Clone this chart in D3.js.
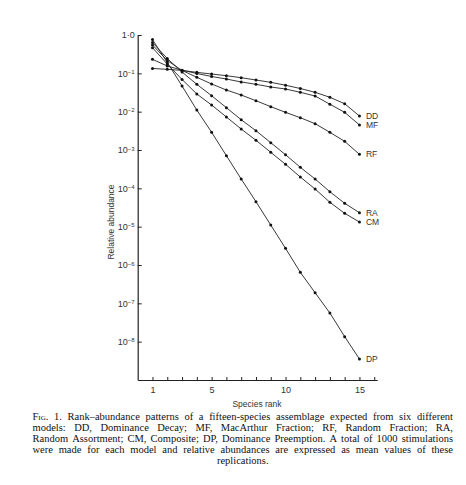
<!DOCTYPE html>
<html>
<head>
<meta charset="utf-8">
<script src="https://cdn.jsdelivr.net/npm/d3@7"></script>
<style>
  body { margin: 0; background: #fff; }
  svg { display: block; }
</style>
</head>
<body>
<svg id="chart"></svg>
<script>
// species ranks (x) and mean relative abundance per model (y)
const ranks = [1, 2, 3, 4, 5, 6, 7, 8, 9, 10, 11, 12, 13, 14, 15];
const ddValues = [0.134, 0.127, 0.119, 0.106, 0.096, 0.0867, 0.0769, 0.067, 0.0583, 0.049, 0.0402, 0.032, 0.0237, 0.0161, 0.0077];
const mfValues = [0.232, 0.155, 0.121, 0.099, 0.0827, 0.0711, 0.0594, 0.0518, 0.044, 0.039, 0.032, 0.0256, 0.0156, 0.0096, 0.0045];
const rfValues = [0.548, 0.216, 0.119, 0.0788, 0.0527, 0.0367, 0.0272, 0.0193, 0.0135, 0.0096, 0.00695, 0.00485, 0.00289, 0.00168, 0.00077];
const raValues = [0.637, 0.244, 0.108, 0.0517, 0.0261, 0.0127, 0.00616, 0.00318, 0.00155, 0.000753, 0.000353, 0.000175, 8.16e-5, 4.07e-5, 2.31e-5];
const cmValues = [0.466, 0.175, 0.069, 0.0289, 0.0149, 0.00726, 0.00353, 0.00179, 0.00087, 0.000423, 0.000197, 9.6e-5, 4.32e-5, 2.23e-5, 1.32e-5];
const dpValues = [0.76, 0.192, 0.0467, 0.0110, 0.0029, 7.1e-4, 1.75e-4, 4.48e-5, 1.1e-5, 2.72e-6, 6.44e-7, 1.89e-7, 5.59e-8, 1.35e-8, 3.52e-9];
const seriesNames = ["DD", "MF", "RF", "RA", "CM", "DP"];

const yTickValues = [1, 1e-1, 1e-2, 1e-3, 1e-4, 1e-5, 1e-6, 1e-7, 1e-8];
const yTickExponents = ["", "−1", "−2", "−3", "−4", "−5", "−6", "−7", "−8"];
const xTickValues = [1, 2, 3, 4, 5, 6, 7, 8, 9, 10, 11, 12, 13, 14, 15, 16];
const xTickLabels = [1, 5, 10, 15];

const xLabel = "Species rank";
const yLabel = "Relative abundance";
const captionLines = [
  "Fig. 1. Rank–abundance patterns of a fifteen-species assemblage expected from six different",
  "models: DD, Dominance Decay; MF, MacArthur Fraction; RF, Random Fraction; RA,",
  "Random Assortment; CM, Composite; DP, Dominance Preemption. A total of 1000 stimulations",
  "were made for each model and relative abundances are expressed as mean values of these",
  "replications."
];

const width = 466;
const height = 485;
const ink = "#222";
const sans = "'Liberation Sans', Arial, sans-serif";
const serif = "'Liberation Serif', 'Times New Roman', serif";

const series = seriesNames.map((name, i) => ({
  name,
  values: [ddValues, mfValues, rfValues, raValues, cmValues, dpValues][i]
}));

const svg = d3.select("#chart")
    .attr("width", width)
    .attr("height", height)
    .attr("viewBox", [0, 0, width, height]);

const x = d3.scaleLinear().domain([0, 16.2]).range([137.7, 377.2]);
const y = d3.scaleLog().domain([1e-9, 1]).range([380, 35]);

// y axis, ticks pointing inward
const yAxis = d3.axisLeft(y)
    .tickValues(yTickValues)
    .tickSizeInner(-4)
    .tickSizeOuter(0)
    .tickPadding(3)
    .tickFormat(() => "");

const gy = svg.append("g")
    .attr("transform", `translate(${x(0)},0)`)
    .call(yAxis);
gy.select(".domain").attr("stroke", ink).attr("stroke-width", 1.2);
gy.selectAll(".tick line").attr("stroke", ink).attr("stroke-width", 1);
gy.selectAll(".tick text")
    .attr("font-family", sans)
    .attr("font-size", 9)
    .attr("fill", "#333")
    .each(function(d, i) {
      const t = d3.select(this);
      if (i === 0) {
        t.text("1·0");
      } else {
        t.append("tspan").text("10");
        t.append("tspan")
            .attr("font-size", 6)
            .attr("dy", "-0.45em")
            .text(yTickExponents[i]);
      }
    });

// x axis, small ticks at every rank
const xAxis = d3.axisBottom(x)
    .tickValues(xTickValues)
    .tickSizeInner(-3)
    .tickSizeOuter(0)
    .tickPadding(7)
    .tickFormat(d => xTickLabels.includes(d) ? d : "");

const gx = svg.append("g")
    .attr("transform", `translate(0,${y(1e-9)})`)
    .call(xAxis);
gx.select(".domain").attr("stroke", ink).attr("stroke-width", 1.2);
gx.selectAll(".tick line").attr("stroke", ink).attr("stroke-width", 1);
gx.selectAll(".tick text")
    .attr("font-family", sans)
    .attr("font-size", 9)
    .attr("fill", "#333");

svg.append("text")
    .attr("x", 257)
    .attr("y", 407)
    .attr("text-anchor", "middle")
    .attr("font-family", sans)
    .attr("font-size", 8.5)
    .attr("fill", "#333")
    .text(xLabel);

svg.append("text")
    .attr("transform", `translate(114,222) rotate(-90)`)
    .attr("text-anchor", "middle")
    .attr("font-family", sans)
    .attr("font-size", 8.5)
    .attr("fill", "#333")
    .text(yLabel);

// model curves
const line = d3.line()
    .x((d, i) => x(ranks[i]))
    .y(d => y(d));

const gs = svg.append("g").selectAll("g")
  .data(series)
  .join("g");

gs.append("path")
    .attr("fill", "none")
    .attr("stroke", ink)
    .attr("stroke-width", 0.9)
    .attr("d", d => line(d.values));

gs.selectAll("circle")
  .data(d => d.values)
  .join("circle")
    .attr("cx", (d, i) => x(ranks[i]))
    .attr("cy", d => y(d))
    .attr("r", 1.5)
    .attr("fill", "#111");

gs.append("text")
    .attr("x", d => x(ranks[ranks.length - 1]) + 6.5)
    .attr("y", d => y(d.values[d.values.length - 1]))
    .attr("dy", "0.35em")
    .attr("font-family", sans)
    .attr("font-size", 8.5)
    .attr("fill", "#333")
    .text(d => d.name);

// caption, justified word by word
const capLeft = 32.5;
const capRight = 453;
const capTop = 419.5;
const capStep = 11.1;

captionLines.forEach((textLine, li) => {
  const words = textLine.split(" ");
  const baseY = capTop + li * capStep;
  const g = svg.append("g");
  const nodes = words.map((w, wi) => {
    const t = g.append("text")
        .attr("y", baseY)
        .attr("font-family", serif)
        .attr("font-size", 10.5)
        .attr("fill", "#111")
        .text(w);
    if (li === 0 && wi === 0) t.style("font-variant", "small-caps");
    return t;
  });
  const widths = nodes.map(t => t.node().getComputedTextLength());
  const total = d3.sum(widths);
  if (li === captionLines.length - 1) {
    const space = 2.6;
    let cx = (capLeft + capRight) / 2 - (total + space * (words.length - 1)) / 2;
    nodes.forEach((t, i) => { t.attr("x", cx); cx += widths[i] + space; });
  } else {
    const gap = (capRight - capLeft - total) / (words.length - 1);
    let cx = capLeft;
    nodes.forEach((t, i) => { t.attr("x", cx); cx += widths[i] + gap; });
  }
});
</script>
</body>
</html>
